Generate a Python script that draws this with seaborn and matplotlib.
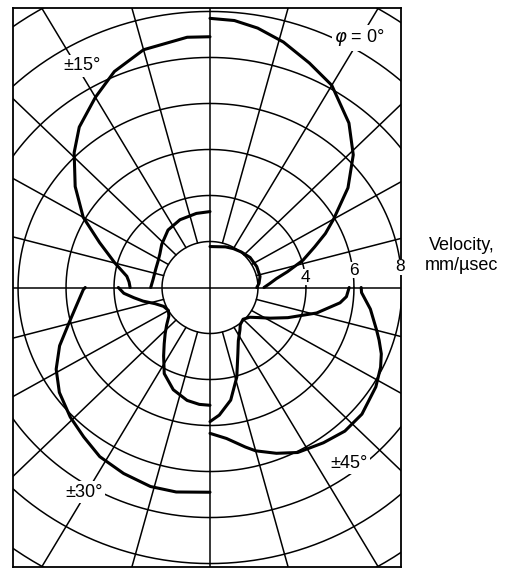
import numpy as np
import matplotlib
matplotlib.use("Agg")
import matplotlib.pyplot as plt
import seaborn as sns

# polar curves, angle in degrees, velocity in mm/usec
# upper right quadrant, phi = 0
phi0_outer_deg = [0, 4, 8, 12, 17, 22, 26, 30, 37, 44, 51, 60, 67, 74, 80, 85, 90]
phi0_outer_v = [2.25, 2.5, 2.8, 3.3, 4.05, 4.7, 5.35, 5.95, 7.2, 8.3, 9.2, 10.15, 10.6, 11.1, 11.45, 11.65, 11.7]
phi0_inner_deg = [0, 5, 13, 25, 38, 50, 60, 70, 80, 90]
phi0_inner_v = [1.95, 2.05, 2.14, 2.15, 2.12, 2.02, 1.95, 1.88, 1.8, 1.78]

# upper left quadrant, phi = +-15
phi15_outer_deg = [90, 95, 105, 113, 120, 128, 134, 142, 150, 157, 165, 172, 176, 180]
phi15_outer_v = [10.9, 10.92, 10.7, 10.2, 9.55, 8.85, 8.15, 7.13, 6.1, 5.0, 4.1, 3.5, 3.38, 3.33]
phi15_inner_deg = [90, 100, 113, 125, 137, 145, 152, 160, 172, 180]
phi15_inner_v = [3.3, 3.27, 3.2, 3.05, 2.75, 2.55, 2.45, 2.4, 2.4, 2.47]

# lower left quadrant, phi = +-30
phi30_outer_deg = [180, 181, 188, 195, 202, 209, 216, 224, 231, 238, 246, 254, 261, 270]
phi30_outer_v = [5.2, 5.28, 5.62, 6.1, 6.76, 7.33, 7.76, 8.1, 8.36, 8.67, 8.85, 9.0, 9.0, 8.9]
phi30_inner_deg = [180, 184, 188, 192, 197, 203, 210, 216, 222, 227, 232, 237, 243, 251, 259, 265, 270]
phi30_inner_v = [3.82, 3.6, 3.2, 2.85, 2.4, 2.1, 2.0, 2.12, 2.43, 2.74, 3.1, 3.55, 4.2, 4.7, 5.0, 5.1, 5.12]

# lower right quadrant, phi = +-45
phi45_outer_deg = [270, 276, 282, 285, 291, 297, 305, 312, 319, 328, 334, 338, 342, 345, 352, 358, 360]
phi45_outer_v = [6.34, 6.6, 7.09, 7.35, 7.72, 8.05, 8.24, 8.4, 8.39, 8.15, 7.91, 7.7, 7.41, 7.19, 6.75, 6.32, 6.3]
phi45_inner_deg = [270, 274, 280, 286, 292, 297, 304, 308, 315, 322, 327, 332, 338, 346, 353, 356, 360]
phi45_inner_v = [5.83, 5.56, 4.97, 4.05, 3.1, 2.6, 2.23, 2.05, 1.95, 2.1, 2.4, 2.84, 3.5, 4.58, 5.46, 5.7, 5.8]

grid_radii = [2, 4, 6, 8, 10, 12, 14, 16]
spoke_deg = [a for a in range(0, 360, 15) if a % 90 != 0]
scale_labels = ["4", "6", "8"]

curves = [
    (phi0_outer_deg, phi0_outer_v), (phi0_inner_deg, phi0_inner_v),
    (phi15_outer_deg, phi15_outer_v), (phi15_inner_deg, phi15_inner_v),
    (phi30_outer_deg, phi30_outer_v), (phi30_inner_deg, phi30_inner_v),
    (phi45_outer_deg, phi45_outer_v), (phi45_inner_deg, phi45_inner_v),
]

sns.set_style("white")
plt.rcParams['font.family'] = ['Liberation Sans', 'DejaVu Sans']
plt.rcParams['text.color'] = 'black'

fig = plt.figure(figsize=(5.12, 5.71), dpi=100)
ax = fig.add_axes([13 / 512, 4 / 571, 388 / 512, 559 / 571])

# grid circles
t = np.linspace(0, 2 * np.pi, 400)
for r in grid_radii:
    ax.plot(r * np.cos(t), r * np.sin(t), color='black', lw=1.1, zorder=1)

# spokes start at the inner circle
for a in spoke_deg:
    th = np.radians(a)
    ax.plot([2 * np.cos(th), 20 * np.cos(th)], [2 * np.sin(th), 20 * np.sin(th)],
            color='black', lw=1.1, zorder=1)

# axes through the centre
ax.plot([-20, 20], [0, 0], color='black', lw=1.1, zorder=1)
ax.plot([0, 0], [-20, 20], color='black', lw=1.1, zorder=1)

# velocity curves
for deg, v in curves:
    th = np.radians(deg)
    v = np.asarray(v)
    sns.lineplot(x=v * np.cos(th), y=v * np.sin(th), sort=False, estimator=None,
                 color='black', lw=2.2, ax=ax, zorder=3)

ax.set_xlim(-8.21, 7.96)
ax.set_ylim(-12.15, 12.15)
ax.set_aspect('auto')
ax.set_xticks([])
ax.set_yticks([])
for s in ax.spines.values():
    s.set_color('black')
    s.set_linewidth(1.3)

box = dict(facecolor='white', edgecolor='none', pad=1.5)
ax.text(-5.33, 9.63, '±15°', fontsize=13, ha='center', va='center', bbox=box, zorder=5)
ax.text(6.21, 10.85, r'$\varphi$ = 0°', fontsize=13, ha='center', va='center', bbox=box, zorder=5)
ax.text(-5.25, -8.89, '±30°', fontsize=13, ha='center', va='center', bbox=box, zorder=5)
ax.text(5.79, -7.63, '±45°', fontsize=13, ha='center', va='center', bbox=box, zorder=5)

for lab, x, y in zip(scale_labels, [3.96, 6.0, 7.92], [0.45, 0.75, 0.9]):
    ax.text(x, y, lab, fontsize=12.5, ha='center', va='center',
            bbox=dict(facecolor='white', edgecolor='none', pad=0.5), zorder=5, clip_on=False)

fig.text(0.902, 0.553, 'Velocity,\nmm/µsec', fontsize=13, ha='center', va='center',
         multialignment='center', linespacing=1.2)

fig.savefig('out.png', dpi=100, facecolor='white')
